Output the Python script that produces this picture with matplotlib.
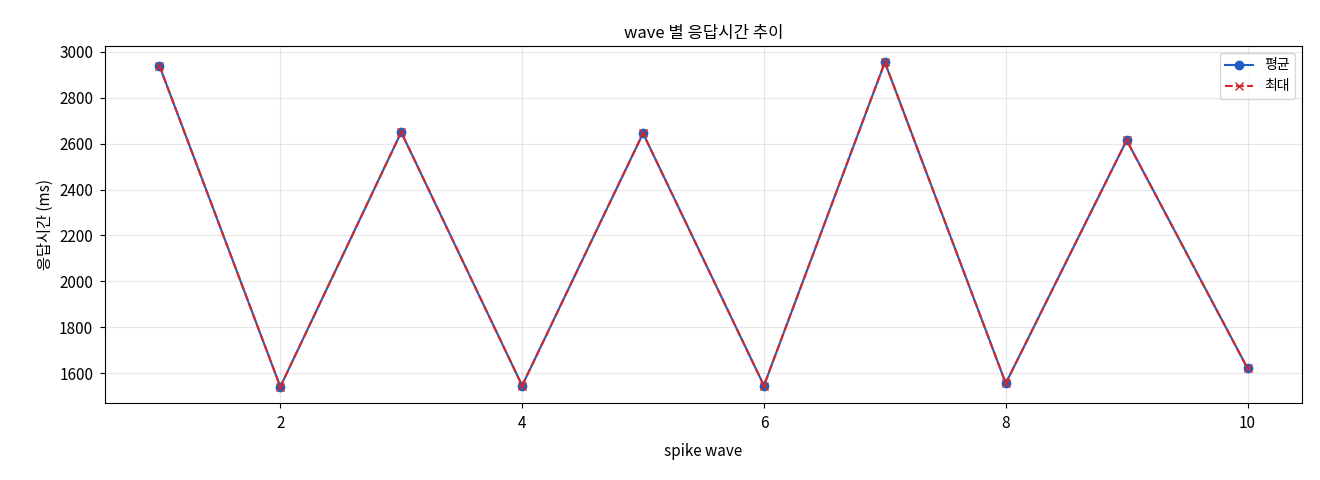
import matplotlib
matplotlib.use("Agg")
import matplotlib.pyplot as plt

plt.rcParams['font.family'] = ['Noto Sans CJK KR', 'DejaVu Sans']
plt.rcParams['axes.unicode_minus'] = False

waves = [1, 2, 3, 4, 5, 6, 7, 8, 9, 10]
avg_ms = [2940, 1540, 2650, 1545, 2645, 1545, 2955, 1555, 2615, 1620]
max_ms = [2940, 1540, 2650, 1545, 2645, 1545, 2955, 1555, 2615, 1620]

fig = plt.figure(figsize=(13.2, 4.8), dpi=100)
ax = fig.add_axes([105/1320, 1-403/480, (1302-105)/1320, (403-46)/480])
ax.plot(waves, avg_ms, marker='o', color='#1f5fbf', label='평균', markersize=6)
ax.plot(waves, max_ms, marker='x', linestyle='--', color='#d62728', label='최대', markersize=6)
ax.set_title('wave 별 응답시간 추이', fontsize=12)
ax.set_xlabel('spike wave', fontsize=11, labelpad=8)
ax.set_ylabel('응답시간 (ms)', fontsize=11)
ax.tick_params(labelsize=11, pad=5)
ax.grid(True, alpha=0.3)
ax.legend(loc='upper right', fontsize=10)
fig.savefig('out.png', dpi=100)
